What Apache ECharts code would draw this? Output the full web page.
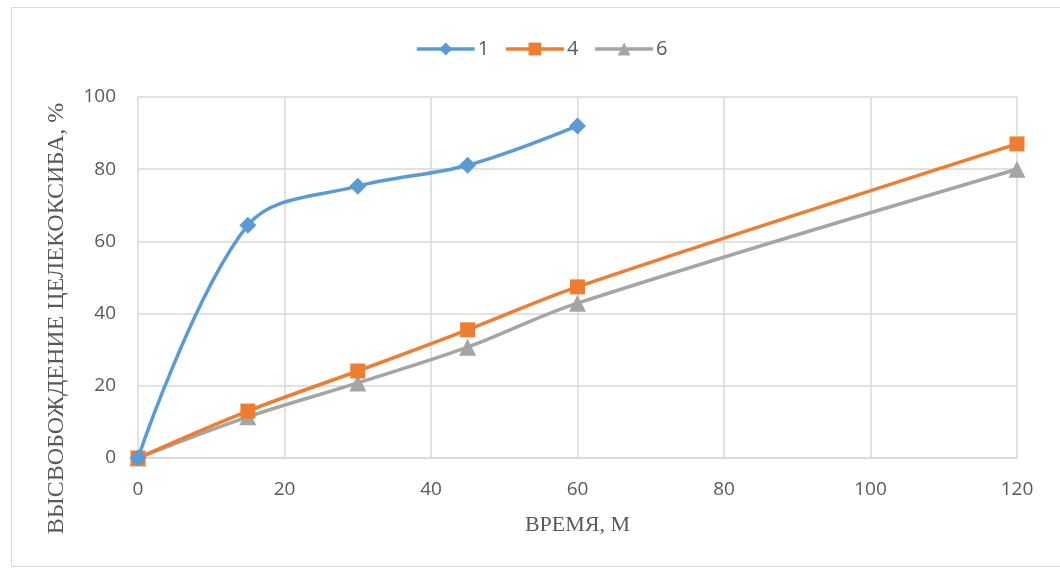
<!DOCTYPE html>
<html><head><meta charset="utf-8">
<script src="https://cdn.jsdelivr.net/npm/echarts@6/dist/echarts.min.js"></script>
<style>html,body{margin:0;padding:0;background:#fff}#c{width:1060px;height:570px}
#frame{position:absolute;left:11px;top:7px;width:1060px;height:560px;border:1px solid #d9d9d9;box-sizing:border-box;pointer-events:none}</style>
</head><body><div id="c"></div><div id="frame"></div>
<script>
const seriesNames = ['1', '4', '6'];
const time1 = [0, 15, 30, 45, 60];
const values1 = [0, 64.5, 75.3, 81.1, 92];
const time4 = [0, 15, 30, 45, 60, 120];
const values4 = [0, 13, 24.1, 35.5, 47.4, 87];
const time6 = [0, 15, 30, 45, 60, 120];
const values6 = [0, 11.4, 20.8, 30.7, 42.9, 80];
const xTitle = 'ВРЕМЯ, М';
const yTitle = 'ВЫСВОБОЖДЕНИЕ ЦЕЛЕКОКСИБА, %';
const colors = ['#5B9BD5', '#ED7D31', '#A5A5A5'];
const symbols = ['diamond', 'rect', 'triangle'];
const symbolSizes = [17, 15, 17];

const pairs = [[time1, values1], [time4, values4], [time6, values6]];
const chart = echarts.init(document.getElementById('c'));
const tickFont = {fontFamily: 'Open Sans', fontSize: 19, color: '#595959'};
chart.setOption({
  animation: false,
  legend: {
    top: 34, left: 410, itemWidth: 58, itemHeight: 16, itemGap: 15,
    textStyle: {fontFamily: 'Open Sans', fontSize: 20, color: '#595959', padding: [0, 0, 0, -2]},
    lineStyle: {width: 3.5},
    data: seriesNames
  },
  grid: {left: 138, right: 43, top: 97, bottom: 112},
  xAxis: {
    type: 'value', min: 0, max: 120, interval: 20,
    name: xTitle, nameLocation: 'middle', nameGap: 56,
    nameTextStyle: {fontFamily: 'Liberation Serif', fontSize: 22, color: '#595959'},
    axisLine: {show: true, lineStyle: {color: '#d9d9d9', width: 1.5}},
    axisTick: {show: false},
    axisLabel: Object.assign({margin: 22}, tickFont),
    splitLine: {show: true, lineStyle: {color: '#d9d9d9', width: 1.5}}
  },
  yAxis: {
    type: 'value', min: 0, max: 100, interval: 20,
    name: yTitle, nameLocation: 'middle', nameGap: 69,
    nameTextStyle: {fontFamily: 'Liberation Serif', fontSize: 24, color: '#595959', padding: [0, 82, 0, 0]},
    axisLine: {show: false}, axisTick: {show: false},
    axisLabel: Object.assign({margin: 22}, tickFont),
    splitLine: {show: true, lineStyle: {color: '#d9d9d9', width: 1.5}}
  },
  series: seriesNames.map((n, i) => ({
    name: n, type: 'line', smooth: 0.35,
    data: pairs[i][0].map((t, k) => [t, pairs[i][1][k]]),
    symbol: symbols[i], symbolSize: symbolSizes[i],
    lineStyle: {color: colors[i], width: 3.5},
    itemStyle: {color: colors[i]},
    z: 10 - i
  }))
});
</script></body></html>
